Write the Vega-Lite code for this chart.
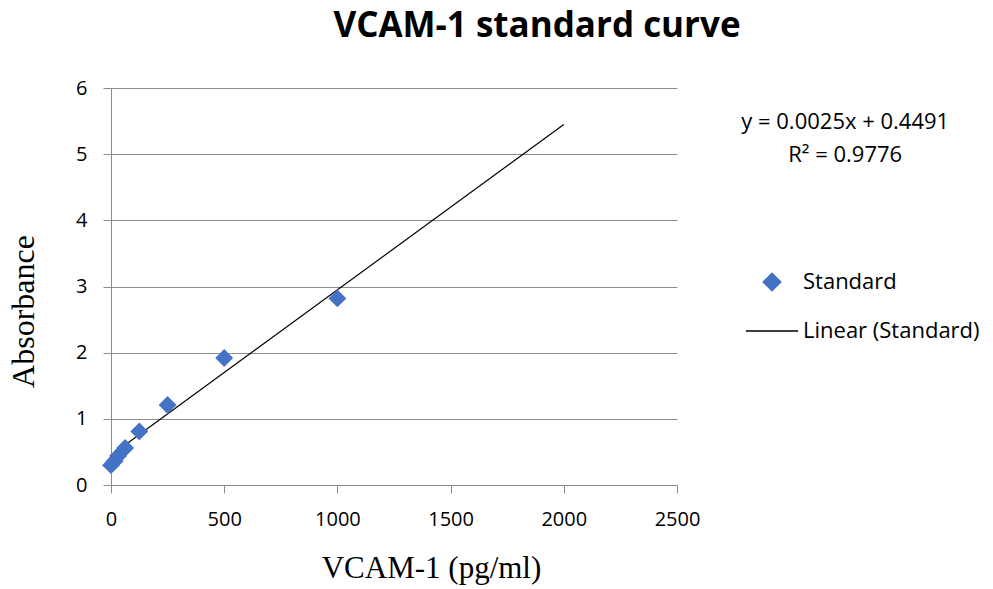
{
  "$schema": "https://vega.github.io/schema/vega-lite/v6.json",
  "width": 566,
  "height": 397,
  "autosize": {"type": "none"},
  "padding": {"left": 111, "top": 88, "right": 316, "bottom": 104},
  "background": "white",
  "title": {
    "text": "VCAM-1 standard curve",
    "font": "Open Sans",
    "fontSize": 35,
    "fontWeight": "bold",
    "color": "black",
    "anchor": "middle",
    "frame": "group",
    "dx": 143,
    "offset": 34
  },
  "config": {
    "view": {"stroke": null},
    "axis": {
      "domainColor": "#8c8c8c",
      "gridColor": "#8c8c8c",
      "tickColor": "#8c8c8c",
      "tickSize": 8,
      "labelFlush": false,
      "labelFont": "Open Sans",
      "labelFontSize": 20,
      "labelColor": "black",
      "titleFont": "Liberation Serif",
      "titleFontWeight": "normal",
      "titleColor": "black"
    }
  },
  "datasets": {
    "standard": [
      {"conc": 0, "absorbance": 0.30, "series": "Standard"},
      {"conc": 15.6, "absorbance": 0.36, "series": "Standard"},
      {"conc": 31.25, "absorbance": 0.44, "series": "Standard"},
      {"conc": 62.5, "absorbance": 0.56, "series": "Standard"},
      {"conc": 125, "absorbance": 0.81, "series": "Standard"},
      {"conc": 250, "absorbance": 1.21, "series": "Standard"},
      {"conc": 500, "absorbance": 1.92, "series": "Standard"},
      {"conc": 1000, "absorbance": 2.82, "series": "Standard"}
    ],
    "trend": [
      {"conc": 0, "absorbance": 0.4491, "series": "Linear (Standard)"},
      {"conc": 2000, "absorbance": 5.4491, "series": "Linear (Standard)"}
    ],
    "equation": [
      {"line": "y = 0.0025x + 0.4491", "row": 0},
      {"line": "R² = 0.9776", "row": 1}
    ]
  },
  "layer": [
    {
      "data": {"name": "trend"},
      "mark": {"type": "line", "strokeWidth": 1.2, "clip": false},
      "encoding": {
        "x": {
          "field": "conc",
          "type": "quantitative",
          "scale": {"domain": [0, 2500], "nice": false},
          "axis": {
            "values": [0, 500, 1000, 1500, 2000, 2500],
            "format": "d",
            "grid": false,
            "title": "VCAM-1 (pg/ml)",
            "titleFontSize": 31,
            "titleX": 320,
            "titleY": 92,
            "titleBaseline": "alphabetic",
            "labelPadding": 16
          }
        },
        "y": {
          "field": "absorbance",
          "type": "quantitative",
          "scale": {"domain": [0, 6], "nice": false},
          "axis": {
            "values": [0, 1, 2, 3, 4, 5, 6],
            "format": "d",
            "grid": true,
            "title": "Absorbance",
            "titleFontSize": 32,
            "titleX": -78,
            "titleY": 223,
            "titleBaseline": "alphabetic",
            "labelPadding": 16
          }
        },
        "color": {
          "field": "series",
          "type": "nominal",
          "scale": {"domain": ["Standard", "Linear (Standard)"], "range": ["#4472c4", "#000000"]},
          "legend": {
            "orient": "none",
            "legendX": 634,
            "legendY": 167,
            "title": null,
            "labelFont": "Open Sans",
            "labelFontSize": 22,
            "labelColor": "black",
            "labelOffset": 4,
            "labelLimit": 300,
            "rowPadding": 10,
            "symbolType": "diamond",
            "encode": {
              "symbols": {
                "update": {
                  "shape": {"signal": "datum.value === 'Standard' ? 'diamond' : 'stroke'"},
                  "size": {"signal": "datum.value === 'Standard' ? 310 : 2704"},
                  "fill": {"signal": "datum.value === 'Standard' ? '#4472c4' : 'transparent'"},
                  "stroke": {"signal": "datum.value === 'Standard' ? 'transparent' : '#000000'"},
                  "strokeWidth": {"value": 1.5},
                  "opacity": {"value": 1}
                }
              }
            }
          }
        }
      }
    },
    {
      "data": {"name": "standard"},
      "mark": {"type": "point", "shape": "diamond", "filled": true, "size": 320, "opacity": 1},
      "encoding": {
        "x": {"field": "conc", "type": "quantitative"},
        "y": {"field": "absorbance", "type": "quantitative"},
        "color": {"field": "series", "type": "nominal"}
      }
    },
    {
      "data": {"name": "equation"},
      "mark": {"type": "text", "font": "Open Sans", "fontSize": 22, "color": "black", "align": "center", "baseline": "middle"},
      "encoding": {
        "x": {"datum": 3243, "type": "quantitative"},
        "y": {"datum": 5.48, "type": "quantitative"},
        "yOffset": {"field": "row", "type": "quantitative", "scale": {"domain": [0, 1], "range": [0, 33]}, "legend": null},
        "text": {"field": "line"}
      }
    }
  ]
}
